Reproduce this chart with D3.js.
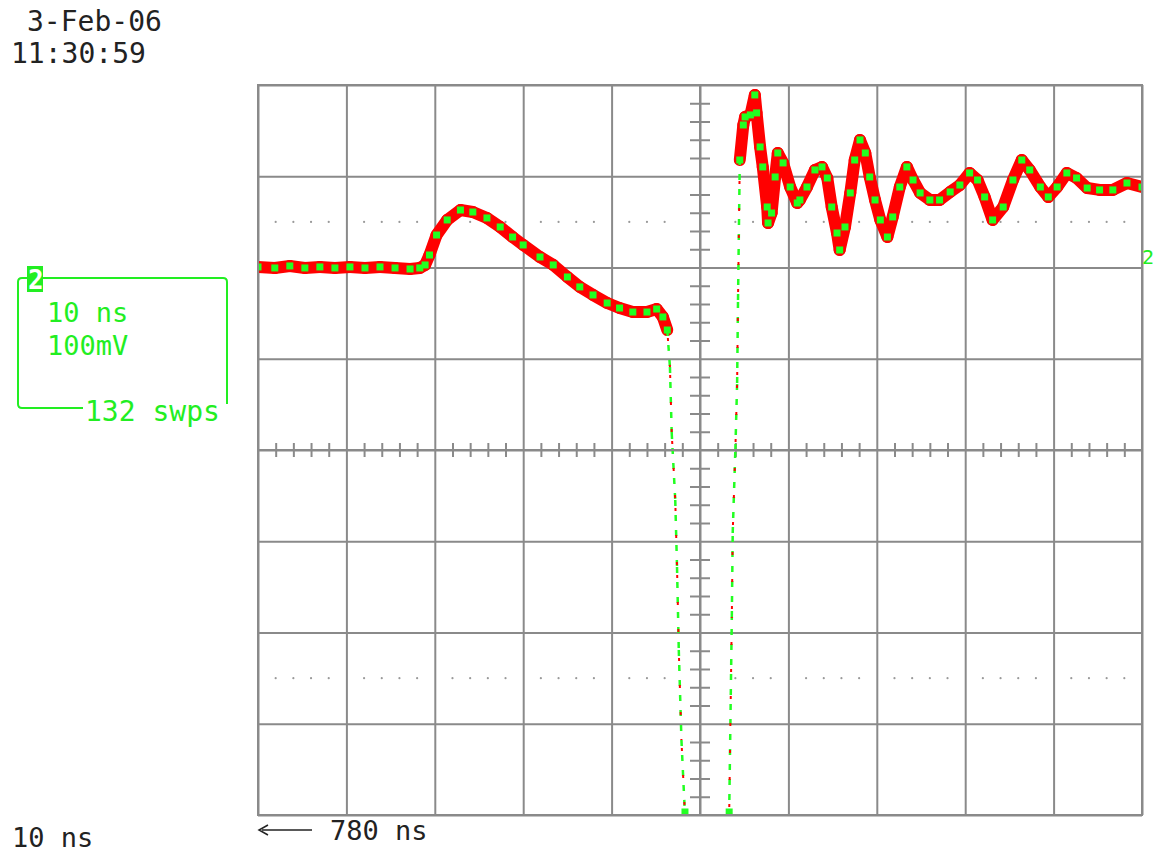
<!DOCTYPE html>
<html>
<head>
<meta charset="utf-8">
<script src="https://cdn.jsdelivr.net/npm/d3@7"></script>
<style>
  body { margin: 0; background: #fff; }
  text { font-family: "DejaVu Sans Mono", "Liberation Mono", monospace; }
</style>
</head>
<body>
<script>
// scope screen: 10 ns/div, 100 mV/div, left edge at 780 ns
const majorTimes = [780, 790, 800, 810, 820, 830, 840, 850, 860, 870, 880];
const majorVolts = [-400, -300, -200, -100, 0, 100, 200, 300, 400];
const markerVolts = [250, -250];

// trace as [time ns, mV]
const baseline = [
  [780.0, 200.6], [781.9, 199.5], [783.6, 201.7], [785.3, 199.5], [787.0, 200.6],
  [788.7, 199.5], [790.4, 200.6], [792.1, 199.5], [793.8, 200.6], [795.5, 199.5],
  [797.2, 198.4], [798.3, 199.5]
];
const bump = [
  [798.9, 202.8], [799.4, 213.7], [800.2, 235.6], [801.4, 252.1], [802.9, 263.0],
  [804.3, 260.8], [805.9, 254.3], [807.4, 244.4], [808.8, 233.4], [810.0, 224.7],
  [811.9, 211.5], [813.4, 202.8], [815.0, 189.6], [816.4, 178.7], [817.9, 169.9],
  [819.5, 161.1], [820.9, 155.6], [822.4, 151.2], [824.0, 151.2], [825.1, 154.5],
  [825.8, 145.8], [826.3, 131.5]
];
const fallingEdge = [
  [826.6, 91.0], [826.8, 18.6], [827.2, -54.8], [827.4, -128.2], [827.6, -219.2],
  [827.9, -317.8], [828.3, -400]
];
const risingEdge = [
  [833.3, -400], [833.6, -183.0], [833.7, -91.0], [834.0, 0], [834.2, 73.4],
  [834.3, 164.4], [834.5, 317.8]
];
const ringing = [
  [834.9, 356.2], [835.1, 365.0], [835.7, 367.2], [836.2, 389.1], [836.4, 369.4],
  [836.8, 332.1], [837.1, 310.2], [837.6, 266.3], [837.7, 248.8], [838.1, 259.7],
  [838.5, 299.2], [838.8, 325.5], [839.4, 314.6], [840.2, 288.2], [841.0, 270.7],
  [841.3, 274.0], [842.1, 288.2], [843.0, 306.9], [843.8, 310.2], [844.4, 298.1],
  [844.9, 266.3], [845.5, 237.8], [845.8, 219.2], [846.4, 244.4], [847.0, 281.7],
  [847.5, 317.8], [848.1, 339.8], [848.7, 325.5], [849.2, 299.2], [849.8, 274.0],
  [850.4, 252.1], [851.2, 233.4], [851.8, 255.4], [852.6, 288.2], [853.4, 310.2],
  [854.1, 295.9], [854.9, 281.7], [856.0, 274.0], [857.1, 274.0], [858.3, 282.8],
  [859.4, 290.4], [860.5, 303.6], [861.4, 295.9], [862.2, 277.3], [863.1, 252.1],
  [864.3, 266.3], [865.4, 295.9], [866.4, 317.8], [867.3, 306.9], [868.5, 288.2],
  [869.4, 277.3], [870.4, 288.2], [871.5, 303.6], [872.6, 298.1], [873.8, 287.1],
  [875.2, 285.0], [876.7, 285.0], [878.3, 292.6], [880.0, 288.2]
];

const W = 1155, H = 853;
const scrLeft = 258, scrRight = 1142, scrTop = 85, scrBottom = 815;
const grey = '#8a8a8a', green = '#22ee22';

const svg = d3.select('body').append('svg')
  .attr('width', W).attr('height', H);

const x = d3.scaleLinear().domain([780, 880]).range([scrLeft, scrRight]);
const y = d3.scaleLinear().domain([-400, 400]).range([scrBottom, scrTop]);

const minorTimes = d3.range(780, 880, 2).filter(t => t % 10 !== 0);
const minorVolts = d3.range(-400, 400, 20).filter(v => v % 100 !== 0);

// grid
svg.append('g')
  .attr('transform', `translate(0,${scrBottom})`)
  .call(d3.axisBottom(x).tickValues(majorTimes).tickSize(-(scrBottom - scrTop)).tickFormat(''))
  .call(g => g.select('.domain').remove());
svg.append('g')
  .attr('transform', `translate(${scrLeft},0)`)
  .call(d3.axisLeft(y).tickValues(majorVolts).tickSize(-(scrRight - scrLeft)).tickFormat(''))
  .call(g => g.select('.domain').remove());

// centre crosshair ticks
svg.append('g')
  .attr('transform', `translate(0,${y(0) - 7})`)
  .call(d3.axisBottom(x).tickValues(minorTimes).tickSize(14).tickFormat(''))
  .call(g => g.select('.domain').remove());
svg.append('g')
  .attr('transform', `translate(${x(830) - 10},0)`)
  .call(d3.axisRight(y).tickValues(minorVolts).tickSize(20).tickFormat(''))
  .call(g => g.select('.domain').remove());

svg.selectAll('.tick line').attr('stroke', grey).attr('stroke-width', 2);

// dotted marker levels
markerVolts.forEach(v => {
  svg.append('g').selectAll('circle')
    .data(minorTimes.filter(t => t < 828 || t > 832))
    .join('circle')
    .attr('cx', d => x(d)).attr('cy', y(v))
    .attr('r', 1.1).attr('fill', '#999');
});

// trace
svg.append('clipPath').attr('id', 'screen')
  .append('rect').attr('x', scrLeft).attr('y', scrTop - 2)
  .attr('width', scrRight - scrLeft).attr('height', scrBottom - scrTop + 4);

const trace = [...baseline, ...bump, ...fallingEdge, null, ...risingEdge, ...ringing];
const pts = trace.map(d => d && { px: x(d[0]), py: y(d[1]), t: d[0], v: d[1] });
const segs = [];
for (let i = 0; i < pts.length - 1; i++) {
  const a = pts[i], b = pts[i + 1];
  if (!a || !b) continue;
  // the fast edges (> 120 mV/ns) are only caught as sparse dots
  const dv = Math.abs(b.v - a.v);
  const thin = dv > 30 && dv / Math.abs(b.t - a.t) > 120;
  segs.push({ a, b, thin, i });
}
const thinAt = new Set();
segs.filter(s => s.thin).forEach(s => { thinAt.add(s.i); });

const tg = svg.append('g').attr('clip-path', 'url(#screen)');

tg.selectAll('.band').data(segs.filter(s => !s.thin)).join('line')
  .attr('class', 'band')
  .attr('x1', d => d.a.px).attr('y1', d => d.a.py)
  .attr('x2', d => d.b.px).attr('y2', d => d.b.py)
  .attr('stroke', '#ff0000').attr('stroke-width', 12).attr('stroke-linecap', 'round');

const thinSegs = segs.filter(s => s.thin);
tg.selectAll('.edgeG').data(thinSegs).join('line')
  .attr('class', 'edgeG')
  .attr('x1', d => d.a.px).attr('y1', d => d.a.py)
  .attr('x2', d => d.b.px).attr('y2', d => d.b.py)
  .attr('stroke', '#22ff22').attr('stroke-width', 2.5)
  .attr('stroke-dasharray', '6 9');
tg.selectAll('.edgeR').data(thinSegs).join('line')
  .attr('class', 'edgeR')
  .attr('x1', d => d.a.px).attr('y1', d => d.a.py)
  .attr('x2', d => d.b.px).attr('y2', d => d.b.py)
  .attr('stroke', '#ff0000').attr('stroke-width', 2)
  .attr('stroke-dasharray', '3 24').attr('stroke-dashoffset', -8);

// green sample markers (skip points inside the fast edges)
const marks = pts.map((p, i) => p && { p, i })
  .filter(d => d && !(thinAt.has(d.i - 1) && thinAt.has(d.i)));
tg.selectAll('.mk').data(marks).join('rect')
  .attr('class', 'mk')
  .attr('x', d => d.p.px - 3.5).attr('y', d => Math.min(d.p.py, scrBottom - 3) - 3.5)
  .attr('width', 7).attr('height', 7)
  .attr('fill', '#22ff22');

// screen frame
svg.append('rect')
  .attr('x', scrLeft).attr('y', scrTop).attr('width', scrRight - scrLeft).attr('height', scrBottom - scrTop)
  .attr('fill', 'none').attr('stroke', grey).attr('stroke-width', 2);

// centre lines
svg.append('line').attr('x1', scrLeft).attr('x2', scrRight).attr('y1', y(0)).attr('y2', y(0))
  .attr('stroke', grey).attr('stroke-width', 2);
svg.append('line').attr('x1', x(830)).attr('x2', x(830)).attr('y1', scrTop).attr('y2', scrBottom)
  .attr('stroke', grey).attr('stroke-width', 2);

// channel 2 reference marker at the right edge
svg.append('text').attr('x', 1142).attr('y', 264)
  .attr('font-size', 20).attr('fill', green).text('2');

// date / time
svg.append('text').attr('x', 27).attr('y', 31).attr('font-size', 28).attr('fill', '#222').text('3-Feb-06');
svg.append('text').attr('x', 11).attr('y', 63).attr('font-size', 28).attr('fill', '#222').text('11:30:59');

// channel box
const box = svg.append('g');
box.append('path')
  .attr('d', 'M83,408 L22,408 Q18,408 18,404 L18,282 Q18,278 22,278 L223,278 Q227,278 227,282 L227,404')
  .attr('fill', 'none').attr('stroke', green).attr('stroke-width', 2);
box.append('rect').attr('x', 27).attr('y', 266).attr('width', 16).attr('height', 26).attr('fill', green);
box.append('text').attr('x', 28).attr('y', 289).attr('font-size', 26).attr('font-weight', 'bold')
  .attr('fill', '#fff').text('2');
box.append('text').attr('x', 47).attr('y', 322).attr('font-size', 27).attr('fill', green).text('10 ns');
box.append('text').attr('x', 47).attr('y', 355).attr('font-size', 27).attr('fill', green).text('100mV');
box.append('text').attr('x', 85).attr('y', 421).attr('font-size', 28).attr('fill', green).text('132 swps');

// bottom labels
svg.append('text').attr('x', 12).attr('y', 847).attr('font-size', 27).attr('fill', '#222').text('10 ns');
svg.append('line').attr('x1', 262).attr('x2', 312).attr('y1', 830).attr('y2', 830)
  .attr('stroke', '#222').attr('stroke-width', 1.5);
svg.append('path').attr('d', 'M268,825 L259,830 L268,835')
  .attr('fill', 'none').attr('stroke', '#222').attr('stroke-width', 1.5);
svg.append('text').attr('x', 330).attr('y', 840).attr('font-size', 27).attr('fill', '#222').text('780 ns');
</script>
</body>
</html>
